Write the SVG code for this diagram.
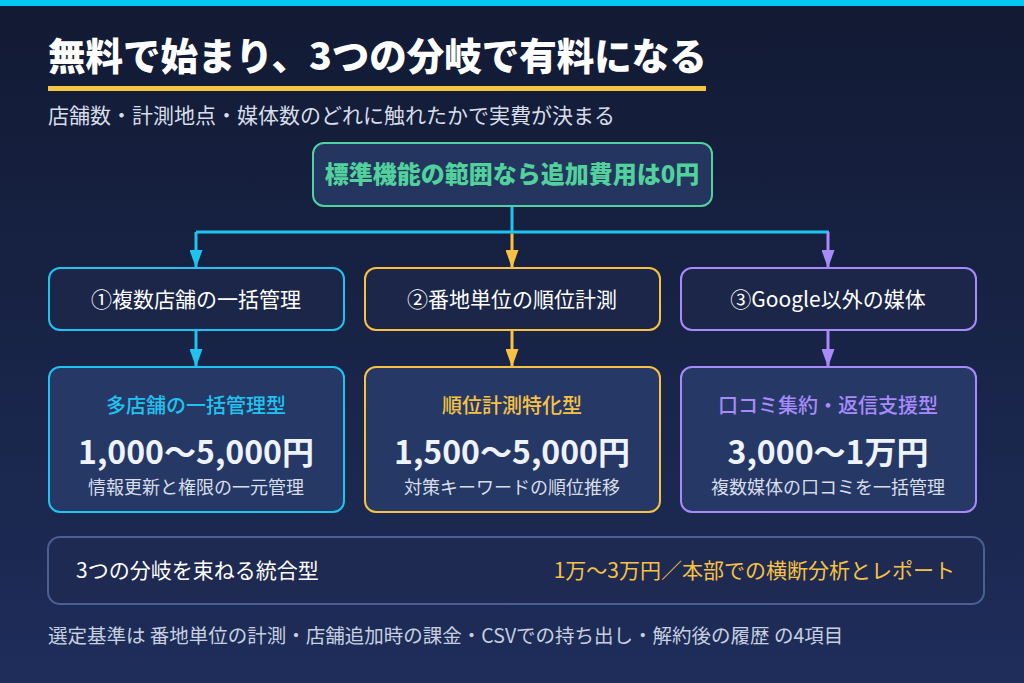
<svg xmlns="http://www.w3.org/2000/svg" width="1024" height="683" viewBox="0 0 1024 683">
<defs>
<linearGradient id="bg" x1="0" y1="0" x2="0" y2="1">
<stop offset="0" stop-color="#121a33"/>
<stop offset="1" stop-color="#1e2d5a"/>
</linearGradient>
<marker id="aC" markerUnits="userSpaceOnUse" markerWidth="18" markerHeight="13" refX="18" refY="6.5" orient="auto"><path d="M0,0 L18,6.5 L0,13 Z" fill="#1fc3f0"/></marker>
<marker id="aY" markerUnits="userSpaceOnUse" markerWidth="18" markerHeight="13" refX="18" refY="6.5" orient="auto"><path d="M0,0 L18,6.5 L0,13 Z" fill="#f7c244"/></marker>
<marker id="aP" markerUnits="userSpaceOnUse" markerWidth="18" markerHeight="13" refX="18" refY="6.5" orient="auto"><path d="M0,0 L18,6.5 L0,13 Z" fill="#a78bfa"/></marker>
<style>
text{font-family:"Noto Sans CJK JP","Noto Sans",sans-serif;}
.title{font-size:37.5px;font-weight:900;fill:#ffffff;}
.sub{font-size:21px;fill:#d7deea;}
.c{text-anchor:middle;}
.lbl{font-size:21px;fill:#ffffff;}
.hd{font-size:20px;font-weight:500;}
.price{font-size:32px;font-weight:700;fill:#eef2fb;}
.desc{font-size:18px;fill:#d7deea;}
.b1{fill:#1b2649;stroke-width:2;}
.b2{fill:#263866;stroke-width:2;}
.cl{fill:none;stroke-width:3;}
</style>
</defs>
<rect width="1024" height="683" fill="url(#bg)"/>
<rect x="0" y="0" width="1024" height="6" fill="#00c8f5"/>
<text class="title" x="48" y="70">無料で始まり、3つの分岐で有料になる</text>
<rect x="48" y="86" width="658" height="5" fill="#f6c343"/>
<text class="sub" x="48" y="123">店舗数・計測地点・媒体数のどれに触れたかで実費が決まる</text>

<g id="connectors">
<path class="cl" d="M512 206 V232" stroke="#1fc3f0"/>
<path class="cl" d="M196 232 H829" stroke="#1fc3f0"/>
<path class="cl" d="M196 232 V268" stroke="#1fc3f0" marker-end="url(#aC)"/>
<path class="cl" d="M512 233.5 V268" stroke="#f7c244" marker-end="url(#aY)"/>
<path class="cl" d="M828 232 V268" stroke="#a78bfa" marker-end="url(#aP)"/>
<path class="cl" d="M196 331 V367" stroke="#1fc3f0" marker-end="url(#aC)"/>
<path class="cl" d="M512 331 V367" stroke="#f7c244" marker-end="url(#aY)"/>
<path class="cl" d="M828 331 V367" stroke="#a78bfa" marker-end="url(#aP)"/>
</g>

<g id="top">
<rect x="313" y="143" width="399" height="63" rx="11" fill="#243660" stroke="#4fd1a0" stroke-width="2"/>
<text class="c" x="512" y="183" style="font-size:24px;font-weight:900;fill:#52d19c">標準機能の範囲なら追加費用は0円</text>
</g>

<g id="branch1">
<rect class="b1" x="49" y="268" width="295" height="62" rx="11" stroke="#1fc3f0"/>
<text class="lbl c" x="196" y="307">①複数店舗の一括管理</text>
</g>
<g id="branch2">
<rect class="b1" x="365" y="268" width="295" height="62" rx="11" stroke="#f7c244"/>
<text class="lbl c" x="512" y="307">②番地単位の順位計測</text>
</g>
<g id="branch3">
<rect class="b1" x="681" y="268" width="295" height="62" rx="11" stroke="#a78bfa"/>
<text class="lbl c" x="828" y="307">③Google以外の媒体</text>
</g>

<g id="type1">
<rect class="b2" x="49" y="367" width="295" height="145" rx="11" stroke="#1fc3f0"/>
<text class="hd c" x="196" y="413" fill="#1fc3f0">多店舗の一括管理型</text>
<text class="price c" x="196" y="464">1,000〜5,000円</text>
<text class="desc c" x="196" y="494">情報更新と権限の一元管理</text>
</g>
<g id="type2">
<rect class="b2" x="365" y="367" width="295" height="145" rx="11" stroke="#f7c244"/>
<text class="hd c" x="512" y="413" fill="#f7c244">順位計測特化型</text>
<text class="price c" x="512" y="464">1,500〜5,000円</text>
<text class="desc c" x="512" y="494">対策キーワードの順位推移</text>
</g>
<g id="type3">
<rect class="b2" x="681" y="367" width="295" height="145" rx="11" stroke="#a78bfa"/>
<text class="hd c" x="828" y="413" fill="#a78bfa">口コミ集約・返信支援型</text>
<text class="price c" x="828" y="464">3,000〜1万円</text>
<text class="desc c" x="828" y="494">複数媒体の口コミを一括管理</text>
</g>

<g id="integrated">
<rect x="48" y="537" width="936" height="67" rx="12" fill="#1e2a52" stroke="#4a5f95" stroke-width="2"/>
<text x="76" y="578" style="font-size:21px;fill:#ffffff">3つの分岐を束ねる統合型</text>
<text x="955" y="578" style="font-size:21px;fill:#f7c244;text-anchor:end">1万〜3万円／本部での横断分析とレポート</text>
</g>

<text x="48" y="643" style="font-size:19.5px;fill:#c8d0e0">選定基準は 番地単位の計測・店舗追加時の課金・CSVでの持ち出し・解約後の履歴 の4項目</text>
</svg>
